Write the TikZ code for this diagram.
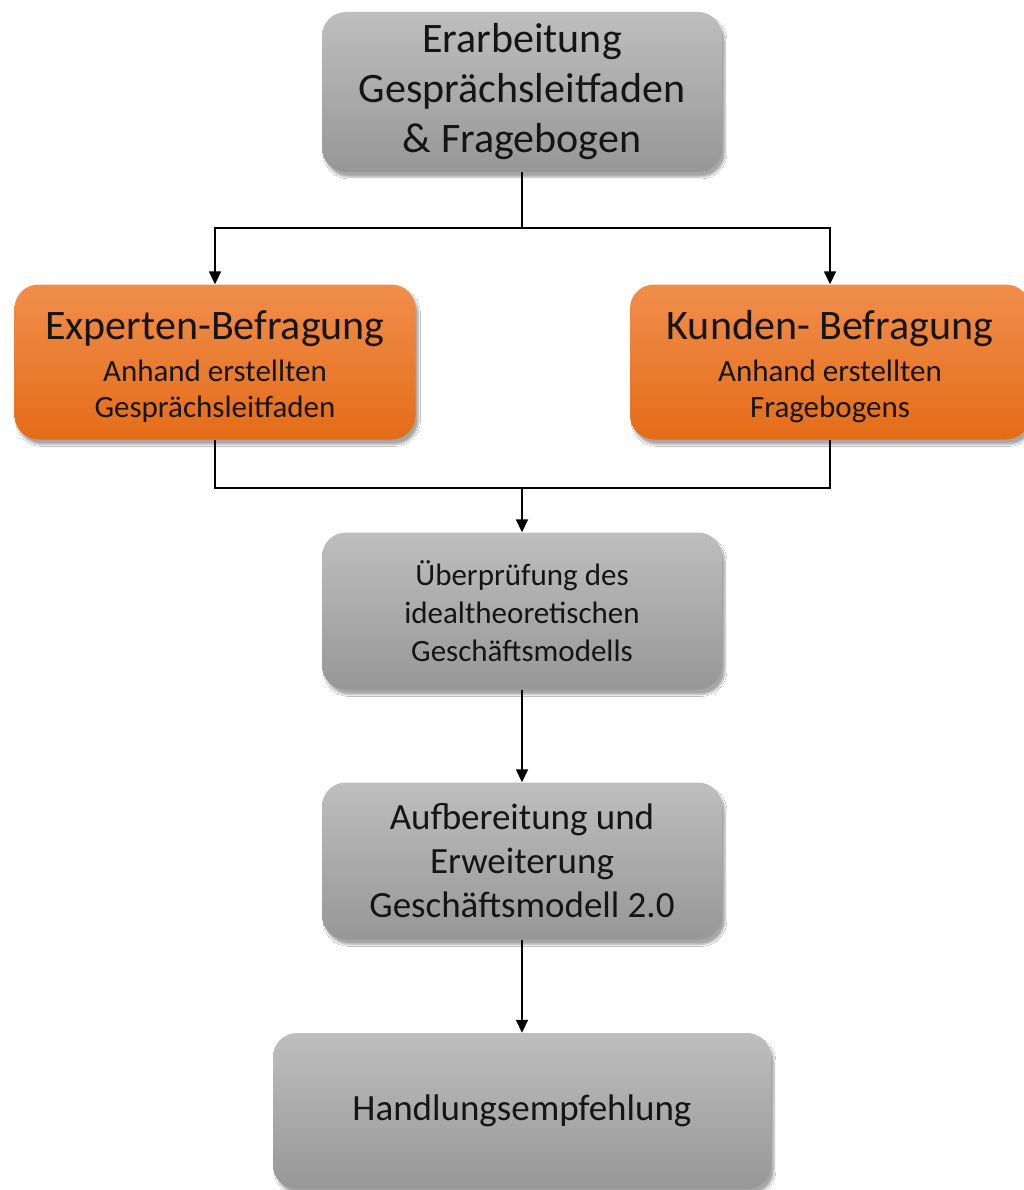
\documentclass[tikz,border=0pt]{standalone}
\usepackage{fontspec}
\setmainfont{Carlito}
\usetikzlibrary{arrows.meta,shadows.blur}
\definecolor{graytop}{HTML}{BEBEBE}
\definecolor{graybot}{HTML}{979797}
\definecolor{orgtop}{HTML}{F08E4C}
\definecolor{orgbot}{HTML}{E46C18}
\definecolor{ink}{HTML}{151515}
\begin{document}
\begin{tikzpicture}[x=1pt,y=-1pt,
  box/.style={rounded corners=24pt,inner sep=0pt,align=center,text=ink,
    blur shadow={shadow xshift=3pt,shadow yshift=-5pt,shadow blur steps=6,shadow opacity=35}},
  graybox/.style={box,top color=graytop,bottom color=graybot},
  orangebox/.style={box,top color=orgtop,bottom color=orgbot},
  surveytext/.style={text=ink,align=center,inner sep=0pt,
    font=\fontsize{31}{36}\selectfont},
  conn/.style={line width=1.6pt,draw=black},
  arr/.style={conn,-{Triangle[length=13pt,width=12pt]}},
  big/.style={font=\fontsize{42}{50}\selectfont},
  sub/.style={font=\fontsize{31}{38}\selectfont},
  mid/.style={font=\fontsize{37}{44}\selectfont}]
\useasboundingbox[fill=white] (0,0) rectangle (1024,1190);

\node[graybox,big,minimum width=400pt,minimum height=160pt] (erarb) at (522,92)
  {Erarbeitung\\Gesprächsleitfaden\\\&\ Fragebogen};

% the two surveys: an orange box, and its title with a two-line note
\node[orangebox,minimum width=401pt,minimum height=155pt] (experten) at (215,362) {};
\node[surveytext] (expertenText) at (215,367)
  {{\fontsize{42}{45}\selectfont Experten-Befragung}\\[6pt]
   Anhand erstellten\\Gesprächsleitfaden};
\node[orangebox,minimum width=400pt,minimum height=155pt] (kunden) at (830,362) {};
\node[surveytext] (kundenText) at (830,367)
  {{\fontsize{42}{45}\selectfont Kunden- Befragung}\\[6pt]
   Anhand erstellten\\Fragebogens};

\node[graybox,sub,minimum width=400pt,minimum height=157pt] (pruef) at (522,611)
  {Überprüfung des\\idealtheoretischen\\Geschäftsmodells};

\node[graybox,mid,minimum width=400pt,minimum height=157pt] (aufb) at (522,861)
  {Aufbereitung und\\Erweiterung\\Geschäftsmodell 2.0};

\node[graybox,mid,minimum width=498pt,minimum height=156pt] (handl) at (522,1111)
  {Handlungsempfehlung};

\coordinate (split) at (522,228);
\coordinate (join) at (522,488);

\draw[conn] (erarb.south) -- (split);
\draw[arr] (split) -| (experten.north);
\draw[arr] (split) -| (kunden.north);
\draw[conn] (experten.south) |- (join);
\draw[conn] (kunden.south) |- (join);
\draw[arr] (join) -- (pruef.north);
\draw[arr] (pruef.south) -- (aufb.north);
\draw[arr] (aufb.south) -- (handl.north);
\end{tikzpicture}
\end{document}
